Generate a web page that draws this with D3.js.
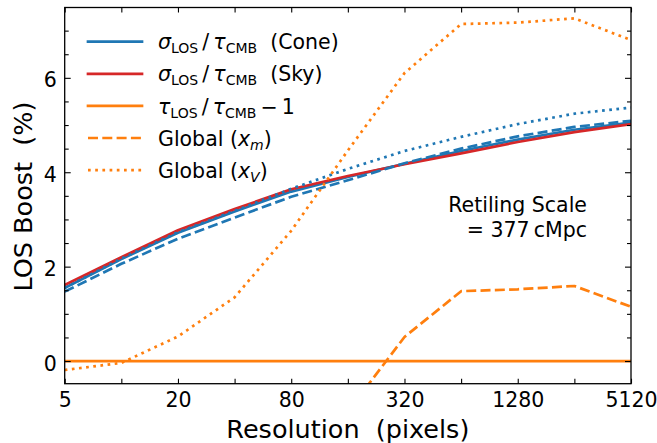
<!DOCTYPE html>
<html>
<head>
<meta charset="utf-8">
<script src="https://cdn.jsdelivr.net/npm/d3@7"></script>
<style>
  html, body { margin: 0; padding: 0; background: #fff; }
  svg { display: block; font-family: "DejaVu Sans", sans-serif; }
  text { white-space: pre; }
</style>
</head>
<body>
<svg id="chart" width="657" height="443"></svg>
<script>
// Map resolution in pixels (log2 spacing)
const resolution = [5, 10, 20, 40, 80, 160, 320, 640, 1280, 2560, 5120];
const xTickLabels = [5, 20, 80, 320, 1280, 5120];
const yTickLabels = [0, 2, 4, 6];

// LOS boost in percent
const coneSigma   = [1.55, 2.16, 2.72, 3.17, 3.59, 3.90, 4.18, 4.45, 4.69, 4.90, 5.05];
const skySigma    = [1.61, 2.20, 2.77, 3.22, 3.64, 3.92, 4.17, 4.40, 4.64, 4.85, 5.02];
const coneXm      = [1.47, 2.06, 2.59, 3.04, 3.48, 3.83, 4.19, 4.50, 4.76, 4.96, 5.09];
const coneXv      = [1.55, 2.17, 2.73, 3.18, 3.65, 4.07, 4.45, 4.75, 5.02, 5.24, 5.37];
const tauRatio    = [0, 0, 0, 0, 0, 0, 0, 0, 0, 0, 0];
const globalXm    = [null, null, null, null, null, -1.07, 0.51, 1.48, 1.52, 1.59, 1.15];
const globalXv    = [-0.19, -0.04, 0.52, 1.35, 2.76, 4.46, 6.10, 7.14, 7.17, 7.26, 6.80];

const BLUE = "#1f77b4", RED = "#d62728", ORANGE = "#ff7f0e";
const LW = 2.7;
const DASH = "10 4.3", DOT = "2.7 4.5";

const svg = d3.select("#chart");
const plotLeft = 64.7, plotRight = 631, plotTop = 7.5, plotBottom = 383.7;

const x = d3.scaleLog().base(2).domain([5, 5120]).range([plotLeft, plotRight]);
const y = d3.scaleLinear().domain([-0.48, 7.49]).range([plotBottom, plotTop]);

svg.append("defs").append("clipPath").attr("id", "plotClip")
  .append("rect").attr("x", plotLeft).attr("y", plotTop)
  .attr("width", plotRight - plotLeft).attr("height", plotBottom - plotTop);

// Series, drawn in back-to-front order
const series = [
  { v: coneSigma, color: BLUE,   dash: null },
  { v: skySigma,  color: RED,    dash: null },
  { v: tauRatio,  color: ORANGE, dash: null },
  { v: coneXm,    color: BLUE,   dash: DASH },
  { v: globalXm,  color: ORANGE, dash: DASH },
  { v: coneXv,    color: BLUE,   dash: DOT },
  { v: globalXv,  color: ORANGE, dash: DOT }
];

const line = d3.line()
  .defined(d => d[1] !== null)
  .x(d => x(d[0]))
  .y(d => y(d[1]));

const plot = svg.append("g").attr("clip-path", "url(#plotClip)");
series.forEach(s => {
  plot.append("path")
    .datum(resolution.map((r, i) => [r, s.v[i]]))
    .attr("d", line)
    .attr("fill", "none")
    .attr("stroke", s.color)
    .attr("stroke-width", LW)
    .attr("stroke-dasharray", s.dash)
    .attr("stroke-linejoin", "round")
    .attr("stroke-linecap", s.dash ? "butt" : "square");
});

// Axes: ticks point inward on all four sides
const xFmt = d => xTickLabels.includes(d) ? String(d) : "";
const yMinor = d3.range(0, 7.01, 0.5);
const yFmt = d => yTickLabels.includes(d) ? String(d) : "";

function styleAxis(g) {
  g.select(".domain").remove();
  g.selectAll(".tick line").attr("stroke", "#000").attr("stroke-width", 1.1);
  g.selectAll(".tick text").attr("fill", "#000").style("font-size", "20.5px")
    .style("font-family", "DejaVu Sans");
}

svg.append("g").attr("transform", `translate(0,${plotBottom})`)
  .call(d3.axisBottom(x).tickValues(resolution).tickFormat(xFmt).tickSizeInner(-5).tickPadding(0))
  .call(styleAxis)
  .call(g => g.selectAll(".tick text").attr("y", 23).attr("dy", null));

svg.append("g").attr("transform", `translate(0,${plotTop})`)
  .call(d3.axisTop(x).tickValues(resolution).tickFormat("").tickSizeInner(-5))
  .call(styleAxis);

svg.append("g").attr("transform", `translate(${plotLeft},0)`)
  .call(d3.axisLeft(y).tickValues(yMinor).tickFormat(yFmt).tickSizeInner(-4))
  .call(styleAxis)
  .call(g => g.selectAll(".tick")
    .filter(d => yTickLabels.includes(d))
    .select("line").attr("x2", 6))
  .call(g => g.selectAll(".tick text").attr("x", -8).attr("dy", "0.44em"));

svg.append("g").attr("transform", `translate(${plotRight},0)`)
  .call(d3.axisRight(y).tickValues(yMinor).tickFormat("").tickSizeInner(-4))
  .call(styleAxis)
  .call(g => g.selectAll(".tick")
    .filter(d => yTickLabels.includes(d))
    .select("line").attr("x2", -6));

// Frame
svg.append("rect")
  .attr("x", plotLeft).attr("y", plotTop)
  .attr("width", plotRight - plotLeft).attr("height", plotBottom - plotTop)
  .attr("fill", "none").attr("stroke", "#000").attr("stroke-width", 1.3);

// Axis titles
svg.append("text")
  .attr("x", (plotLeft + plotRight) / 2).attr("y", 437.5)
  .attr("text-anchor", "middle").style("font-size", "25.5px")
  .text("Resolution  (pixels)");

svg.append("text")
  .attr("transform", `translate(31.5,${(plotTop + plotBottom) / 2 + 1}) rotate(-90)`)
  .attr("text-anchor", "middle").style("font-size", "25.5px")
  .text("LOS Boost  (%)");

// Annotation
const note = svg.append("text").attr("text-anchor", "end").style("font-size", "20.5px");
note.append("tspan").attr("x", 587).attr("y", 211.7).text("Retiling Scale");
note.append("tspan").attr("x", 587).attr("y", 237.3).text("= 377\u2009cMpc");

// Legend
const legendItems = [
  { color: BLUE,   dash: null, parts: [["σ", "i"], ["LOS", "sub"], ["\u2009/\u2009", ""], ["τ", "i"], ["CMB", "sub"], ["  (Cone)", ""]] },
  { color: RED,    dash: null, parts: [["σ", "i"], ["LOS", "sub"], ["\u2009/\u2009", ""], ["τ", "i"], ["CMB", "sub"], ["  (Sky)", ""]] },
  { color: ORANGE, dash: null, parts: [["τ", "i"], ["LOS", "sub"], ["\u2009/\u2009", ""], ["τ", "i"], ["CMB", "sub"], ["\u2009\u2212\u20091", ""]] },
  { color: ORANGE, dash: DASH, parts: [["Global (", ""], ["x", "i"], ["m", "isub"], [")", ""]] },
  { color: ORANGE, dash: DOT,  parts: [["Global (", ""], ["x", "i"], ["V", "isub"], [")", ""]] }
];

const legend = svg.append("g");
legendItems.forEach((item, i) => {
  const cy = 41.7 + i * 32.1;
  legend.append("line")
    .attr("x1", 88).attr("x2", 142).attr("y1", cy).attr("y2", cy)
    .attr("stroke", item.color).attr("stroke-width", LW)
    .attr("stroke-dasharray", item.dash)
    .attr("stroke-linecap", item.dash ? "butt" : "square");
  const t = legend.append("text").attr("x", 158).attr("y", cy + 7.6)
    .style("font-size", "20.5px");
  let shifted = false;
  item.parts.forEach(([s, kind]) => {
    const ts = t.append("tspan").text(s);
    const isSub = kind === "sub" || kind === "isub";
    if (kind === "i" || kind === "isub") ts.style("font-style", "italic");
    if (isSub) {
      ts.style("font-size", "14px");
      if (!shifted) { ts.attr("dy", 4); shifted = true; }
    } else if (shifted) {
      ts.attr("dy", -4); shifted = false;
    }
  });
});
</script>
</body>
</html>
